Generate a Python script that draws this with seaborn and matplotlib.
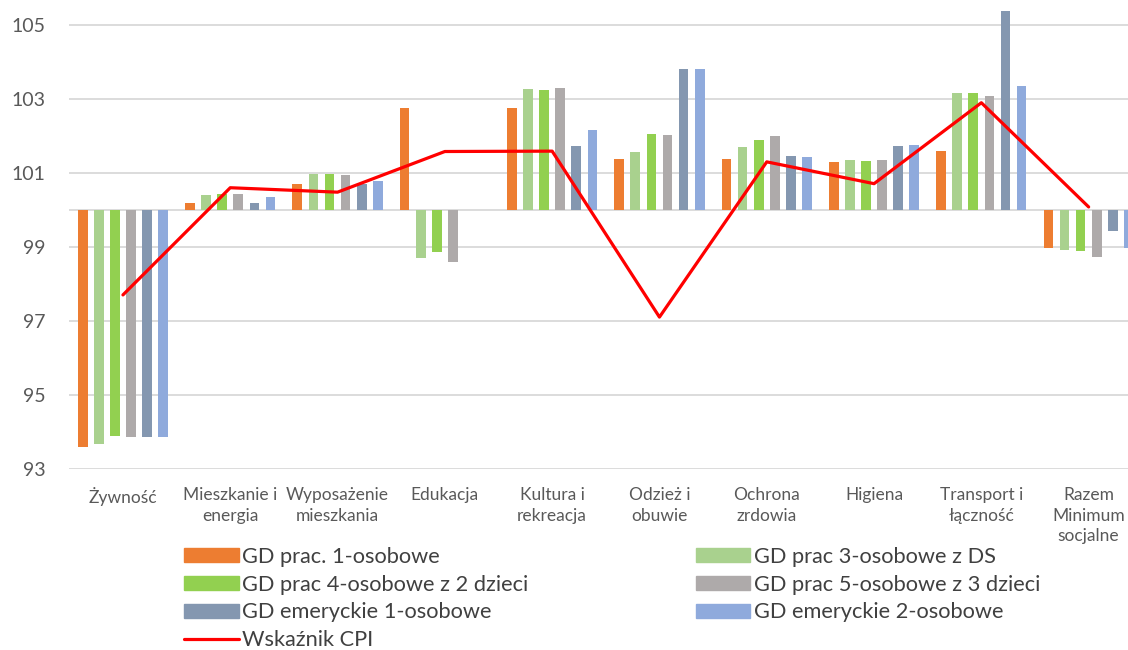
import numpy as np
import pandas as pd
import matplotlib.pyplot as plt
import seaborn as sns
from matplotlib.patches import Patch
from matplotlib.lines import Line2D
from matplotlib.ticker import FuncFormatter

# --- data (indices, base = 100) ---
categories = ["Żywność", "Mieszkanie i\nenergia", "Wyposażenie\nmieszkania", "Edukacja",
              "Kultura i\nrekreacja", "Odzież i\nobuwie", "Ochrona\nzrdowia", "Higiena",
              "Transport i\nłączność", "Razem\nMinimum\nsocjalne"]
series = ["GD prac. 1-osobowe", "GD prac 3-osobowe z DS", "GD prac 4-osobowe z 2 dzieci",
          "GD prac 5-osobowe z 3 dzieci", "GD emeryckie 1-osobowe", "GD emeryckie 2-osobowe"]
prac_1 = [93.60, 100.21, 100.70, 102.76, 102.78, 101.40, 101.39, 101.31, 101.60, 98.97]
prac_3 = [93.67, 100.40, 100.99, 98.71, 103.27, 101.58, 101.72, 101.36, 103.17, 98.93]
prac_4 = [93.89, 100.43, 100.99, 98.87, 103.26, 102.06, 101.91, 101.34, 103.17, 98.91]
prac_5 = [93.87, 100.45, 100.96, 98.60, 103.31, 102.03, 102.02, 101.36, 103.09, 98.74]
emer_1 = [93.86, 100.21, 100.70, np.nan, 101.74, 103.81, 101.47, 101.73, 105.40, 99.43]
emer_2 = [93.86, 100.36, 100.78, np.nan, 102.18, 103.81, 101.45, 101.77, 103.36, 98.99]
cpi = [97.71, 100.61, 100.49, 101.59, 101.60, 97.11, 101.31, 100.72, 102.91, 100.09]
base = 100

colors = ["#ED7D31", "#A9D18E", "#92D050", "#AEAAAA", "#8497B0", "#8FAADC"]
cpi_color = "#FF0000"

values = [prac_1, prac_3, prac_4, prac_5, emer_1, emer_2]
rows = []
for name, vals in zip(series, values):
    for cat, v in zip(categories, vals):
        rows.append({"kategoria": cat, "gospodarstwo": name, "odchylenie": v - base})
df = pd.DataFrame(rows)

sns.set_theme(style="white")
plt.rcParams["font.family"] = ["Lato", "DejaVu Sans"]

fig = plt.figure(figsize=(11.28, 6.5), dpi=100)
ax = fig.add_axes([69.3 / 1128, 181 / 650, 1073 / 1128, 465.7 / 650])

sns.barplot(data=df, x="kategoria", y="odchylenie", hue="gospodarstwo",
            order=categories, hue_order=series, palette=colors, saturation=1,
            width=0.9, gap=0.4, errorbar=None, linewidth=0, legend=False, ax=ax)
sns.lineplot(x=np.arange(len(categories)), y=np.array(cpi) - base, color=cpi_color,
             linewidth=2.3, ax=ax)

ax.set_xlim(-0.5, len(categories) - 0.5)
ax.set_ylim(-7, 5.6)
ax.set_yticks(np.arange(-7, 6, 2))
ax.yaxis.set_major_formatter(FuncFormatter(lambda v, p: f"{v + base:.0f}"))
ax.grid(axis="y", color="#D9D9D9", linewidth=1.3)
ax.axhline(0, color="#D9D9D9", linewidth=1.3, zorder=0.5)
ax.set_axisbelow(True)
for s in ax.spines.values():
    s.set_visible(False)

ax.set_xlabel("")
ax.set_ylabel("")
ax.set_xticks(range(len(categories)))
ax.set_xticklabels(categories, fontsize=12.5, color="#595959", linespacing=1.35, va="top")
ax.tick_params(axis="x", length=0, pad=13)
ax.tick_params(axis="y", length=0, pad=17, labelsize=14, labelcolor="#595959")

handles = [Patch(color=c) for c in colors] + [Line2D([], [], color=cpi_color, linewidth=2.3)]
labels = series + ["Wskaźnik CPI"]
order = [0, 2, 4, 6, 1, 3, 5]
fig.legend([handles[i] for i in order], [labels[i] for i in order],
           loc="upper left", bbox_to_anchor=(184 / 1128, 1 - 547 / 650 - 0.01, 856 / 1128, 0.01),
           mode="expand", ncol=2, frameon=False, fontsize=15.7, labelcolor="#404040",
           handlelength=2.5, handleheight=0.6, handletextpad=0.15, labelspacing=0.35,
           borderpad=0, borderaxespad=0)

fig.savefig("out.png", dpi=100)
